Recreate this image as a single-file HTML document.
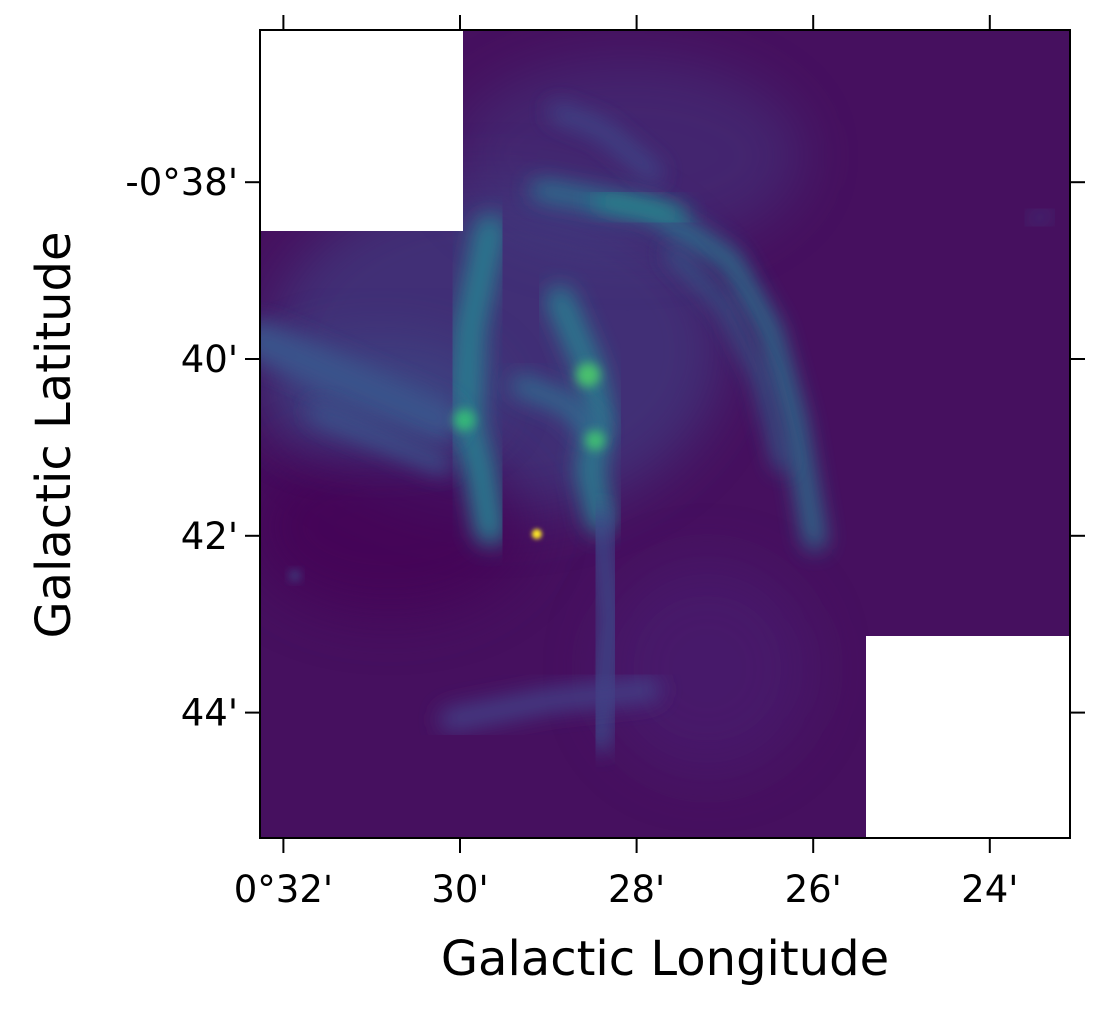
<!DOCTYPE html>
<html><head><meta charset="utf-8"><style>
body{margin:0;background:#fff;}
svg{display:block;font-family:"DejaVu Sans","Liberation Sans",sans-serif;}
</style></head><body>
<svg id="chart" width="1100" height="1014" viewBox="0 0 1100 1014">
<defs>
<clipPath id="clip"><rect x="260" y="30" width="810" height="808"/></clipPath>
<filter id="b8" x="-50%" y="-50%" width="200%" height="200%"><feGaussianBlur stdDeviation="11"/></filter>
<filter id="b20" x="-50%" y="-50%" width="200%" height="200%"><feGaussianBlur stdDeviation="28"/></filter>
<filter id="b4" x="-50%" y="-50%" width="200%" height="200%"><feGaussianBlur stdDeviation="5"/></filter>
<filter id="b2" x="-50%" y="-50%" width="200%" height="200%"><feGaussianBlur stdDeviation="2"/></filter>
</defs>
<g id="plot" clip-path="url(#clip)">
<rect x="260" y="30" width="810" height="808" fill="#46105f"/>
</g>
<rect x="260" y="30" width="810" height="808" fill="none" stroke="#000" stroke-width="2"/>
<g id="ticks"></g>
<text x="665" y="975" font-size="48" text-anchor="middle">Galactic Longitude</text>
<text x="0" y="0" font-size="48" text-anchor="middle" transform="translate(70,435) rotate(-90)">Galactic Latitude</text>
</svg>
<script>
const xTickVals=[32,30,28,26,24];
const xTickLabels=["0°32'","30'","28'","26'","24'"];
const yTickVals=[38,40,42,44];
const yTickLabels=["-0°38'","40'","42'","44'"];
const cloudLon=[29.6,28.1,30.8,30.9,27.2];
const cloudLat=[39.9,37.7,41.9,40.4,43.5];
const cloudRx=[2.6,2.0,1.6,1.3,1.2];
const cloudRy=[1.9,1.1,1.0,0.6,1.2];
const cloudColor=["#3e4989","#414487","#440154","#3b528b","#482475"];
const cloudOpacity=[0.55,0.4,0.7,0.5,0.5];
const filLon=[[29.09,27.85,26.94,26.49,26.21,25.98],[28.41,27.51],[29.66,29.89,29.94,29.77,29.66],[28.87,28.53,28.41,28.53,28.41],[32.26,31.25,30.23],[28.41,28.30,28.41],[30.11,28.98,27.85],[23.52,23.35],[27.6,27.0,26.6,26.35],[31.6,30.9,30.2],[29.3,28.8,28.5],[28.9,28.4,27.8]];
const filLat=[[38.09,38.31,38.88,39.67,40.69,42.05],[38.20,38.37],[38.54,39.67,40.69,41.26,41.93],[39.33,40.12,40.69,41.26,41.82],[39.79,40.24,40.69],[41.82,42.95,44.31],[44.08,43.86,43.74],[38.45,38.35],[38.8,39.4,40.2,41.2],[40.6,40.9,41.2],[40.3,40.5,40.8],[37.2,37.4,37.9]];
const filWidth=[20,14,32,28,40,22,22,8,12,18,22,16];
const filColor=["#2c728e","#21918c","#2a788e","#2a788e","#3b528b","#3e4a89","#424086","#3e4a89","#33638d","#3b528b","#31688e","#3e4a89"];
const knotLon=[28.55,28.47,29.95,31.87];
const knotLat=[40.18,40.92,40.69,42.45];
const knotR=[12,10,11,5];
const knotColor=["#4ac16d","#3fbc73","#35b779","#3b528b"];
const starLon=[29.13];
const starLat=[41.98];

const X=l=>460+(30-l)*88.3;
const Y=b=>359+(b-40)*88.4;
const NS="http://www.w3.org/2000/svg";
const plot=document.getElementById('plot');
function mk(t,a,p){const e=document.createElementNS(NS,t);for(const k in a)e.setAttribute(k,a[k]);p.appendChild(e);return e;}
for(let i=0;i<cloudLon.length;i++){
 const e=mk('ellipse',{cx:X(cloudLon[i]),cy:Y(cloudLat[i]),rx:cloudRx[i]*88.3,ry:cloudRy[i]*88.4,fill:cloudColor[i],opacity:cloudOpacity[i],filter:'url(#b20)'},plot);
 
 
}
for(let i=0;i<filLon.length;i++){
 const pts=filLon[i].map((l,j)=>X(l)+','+Y(filLat[i][j])).join(' ');
 const e=mk('polyline',{points:pts,fill:'none',stroke:filColor[i],'stroke-width':filWidth[i],'stroke-linecap':'round','stroke-linejoin':'round',filter:'url(#b8)'},plot);
 
 
}
for(let i=0;i<knotLon.length;i++){
 const e=mk('circle',{cx:X(knotLon[i]),cy:Y(knotLat[i]),r:knotR[i],fill:knotColor[i],filter:'url(#b4)'},plot);
 
 
}
for(let i=0;i<starLon.length;i++){
 const e=mk('circle',{cx:X(starLon[i]),cy:Y(starLat[i]),r:5,fill:'#fde725',filter:'url(#b2)'},plot);
 
 
}
const m1=mk('rect',{x:260,y:30,width:203,height:201,fill:'#fff'},plot);


const m2=mk('rect',{x:866,y:636,width:204,height:202,fill:'#fff'},plot);


const tk=document.getElementById('ticks');
xTickVals.forEach((v,i)=>{
 const x=X(v);
 const a=mk('line',{x1:x,x2:x,y1:15,y2:30,stroke:'#000','stroke-width':2},tk);
 
 
 const b=mk('line',{x1:x,x2:x,y1:838,y2:853,stroke:'#000','stroke-width':2},tk);
 
 
 const t=mk('text',{x:x,y:902,'font-size':37,'text-anchor':'middle'},tk);
 t.textContent=xTickLabels[i];
 
 
});
yTickVals.forEach((v,i)=>{
 const y=Y(v);
 const a=mk('line',{x1:245,x2:260,y1:y,y2:y,stroke:'#000','stroke-width':2},tk);
 
 
 const b=mk('line',{x1:1070,x2:1085,y1:y,y2:y,stroke:'#000','stroke-width':2},tk);
 
 
 const t=mk('text',{x:238,y:y+13,'font-size':37,'text-anchor':'end'},tk);
 t.textContent=yTickLabels[i];
 
 
});
</script>
</body></html>
